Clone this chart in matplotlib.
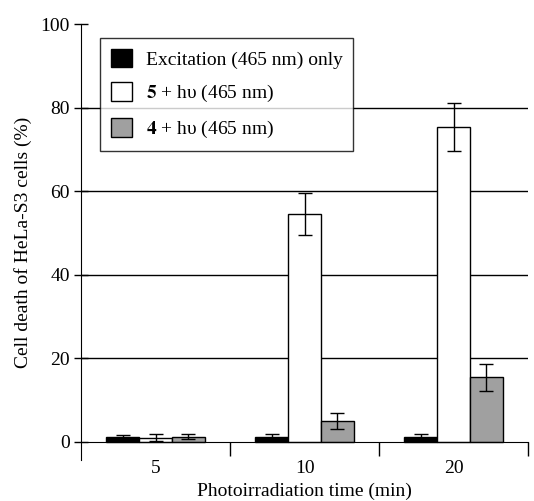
import matplotlib
matplotlib.use("Agg")
import matplotlib.pyplot as plt
from matplotlib.patches import Patch
import numpy as np

plt.rcParams['font.family'] = ['Liberation Serif', 'DejaVu Serif']
plt.rcParams['mathtext.fontset'] = 'stix'

categories = ["5", "10", "20"]
series_labels = ["Excitation (465 nm) only", r"$\mathbf{5}$ + hυ (465 nm)", r"$\mathbf{4}$ + hυ (465 nm)"]
excitation = [1.2, 1.2, 1.2]
excitation_err = [0.5, 0.6, 0.8]
cmp5 = [1.0, 54.5, 75.3]
cmp5_err = [0.8, 5.0, 5.7]
cmp4 = [1.2, 5.0, 15.5]
cmp4_err = [0.6, 2.0, 3.2]
grid_vals = [20, 40, 60, 80]

colors = ["black", "white", "#a0a0a0"]

fig = plt.figure(figsize=(5.34, 5.01), dpi=100)
ax = fig.add_axes([0.152, 0.082, 0.837, 0.870])

x = np.arange(len(categories))
w = 0.22
offs = [-0.22, 0.0, 0.22]
for vals, errs, off, c, lab in zip([excitation, cmp5, cmp4], [excitation_err, cmp5_err, cmp4_err],
                                   offs, colors, series_labels):
    ax.bar(x + off, vals, w, color=c, edgecolor="black", linewidth=1.0, zorder=3, label=lab)
    ax.errorbar(x + off, vals, yerr=errs, fmt="none", ecolor="black", elinewidth=1.0,
                capsize=5, capthick=1.0, zorder=4)

for g in grid_vals:
    ax.axhline(g, color="black", linewidth=1.0, zorder=1)

ax.set_xlim(-0.5, 2.5)
ax.set_ylim(-4.3, 100)
ax.spines['top'].set_visible(False)
ax.spines['right'].set_visible(False)
ax.spines['bottom'].set_position(('data', 0))
ax.spines['bottom'].set_zorder(5)

ax.set_yticks([0, 20, 40, 60, 80, 100])
ax.tick_params(axis='y', direction='inout', length=10, width=1, labelsize=14, pad=3)
ax.set_xticks([0.5, 1.5, 2.5])
ax.set_xticklabels(["", "", ""])
ax.set_xticks(x, minor=True)
ax.set_xticklabels(categories, minor=True)
ax.tick_params(axis='x', which='major', direction='out', length=10, width=1)
ax.tick_params(axis='x', which='minor', length=0, labelsize=14, pad=13)

ax.set_ylabel("Cell death of HeLa-S3 cells (%)", fontsize=14, labelpad=6)
ax.set_xlabel("Photoirradiation time (min)", fontsize=14, labelpad=4)

handles = [Patch(facecolor=c, edgecolor="black", linewidth=1.0) for c in colors]
leg = ax.legend(handles, series_labels, loc="upper left", bbox_to_anchor=(0.02, 0.99),
                fontsize=14, frameon=True, fancybox=False, edgecolor="black",
                handlelength=1.1, handleheight=1.1, borderpad=0.55, labelspacing=0.7,
                handletextpad=0.7)
leg.get_frame().set_linewidth(1.0)
leg.set_zorder(6)

fig.savefig("out.png", dpi=100)
